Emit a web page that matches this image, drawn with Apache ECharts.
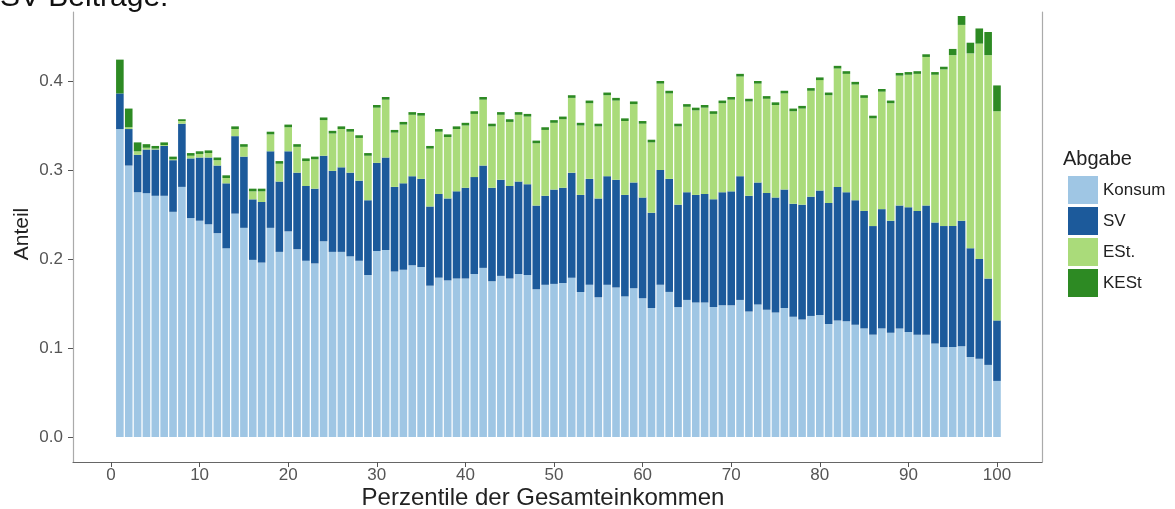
<!DOCTYPE html>
<html>
<head>
<meta charset="utf-8">
<script src="https://cdn.jsdelivr.net/npm/echarts@6/dist/echarts.min.js"></script>
<style>
html,body{margin:0;padding:0;background:#fff;}
#chart{width:1175px;height:509px;}
</style>
</head>
<body>
<div id="chart"></div>
<script>
// Percentiles 1..100
const percentiles = Array.from({length: 100}, (_, k) => k + 1);
const xTickValues = [0, 10, 20, 30, 40, 50, 60, 70, 80, 90, 100];
const yTickValues = [0, 0.1, 0.2, 0.3, 0.4];
const seriesNames = ['Konsum', 'SV', 'ESt.', 'KESt'];

const konsum = [
0.346,0.305,0.275,0.274,0.271,0.271,0.253,0.281,0.246,0.243,
0.239,0.229,0.212,0.251,0.235,0.199,0.196,0.235,0.208,0.231,
0.211,0.198,0.195,0.220,0.208,0.208,0.203,0.198,0.182,0.209,
0.210,0.186,0.188,0.193,0.191,0.170,0.179,0.176,0.178,0.178,
0.183,0.190,0.175,0.181,0.178,0.183,0.182,0.166,0.171,0.172,
0.173,0.179,0.163,0.171,0.157,0.171,0.168,0.158,0.167,0.156,
0.145,0.171,0.163,0.146,0.154,0.151,0.151,0.146,0.148,0.148,
0.154,0.141,0.149,0.143,0.140,0.145,0.135,0.132,0.136,0.137,
0.127,0.131,0.130,0.126,0.122,0.115,0.122,0.117,0.122,0.118,
0.115,0.115,0.105,0.101,0.101,0.102,0.090,0.088,0.081,0.063];

const sv = [
0.040,0.041,0.042,0.049,0.052,0.056,0.058,0.071,0.067,0.071,
0.075,0.076,0.073,0.087,0.080,0.068,0.068,0.086,0.079,0.090,
0.086,0.084,0.084,0.096,0.091,0.095,0.094,0.090,0.084,0.099,
0.104,0.095,0.097,0.100,0.099,0.089,0.094,0.092,0.098,0.102,
0.109,0.115,0.105,0.108,0.104,0.104,0.102,0.094,0.100,0.106,
0.107,0.118,0.109,0.119,0.111,0.122,0.121,0.114,0.119,0.113,
0.107,0.129,0.127,0.115,0.121,0.121,0.122,0.121,0.127,0.128,
0.139,0.130,0.137,0.131,0.129,0.133,0.127,0.129,0.134,0.140,
0.136,0.150,0.145,0.140,0.132,0.122,0.134,0.126,0.138,0.140,
0.139,0.145,0.136,0.136,0.136,0.141,0.122,0.112,0.097,0.068];

const est = [
0.000,0.002,0.004,0.002,0.001,0.001,0.001,0.003,0.003,0.004,
0.005,0.006,0.006,0.008,0.011,0.009,0.012,0.019,0.020,0.027,
0.029,0.028,0.033,0.040,0.042,0.043,0.046,0.048,0.050,0.062,
0.065,0.061,0.066,0.069,0.071,0.065,0.070,0.069,0.070,0.070,
0.071,0.074,0.069,0.073,0.072,0.075,0.076,0.070,0.074,0.075,
0.077,0.084,0.078,0.085,0.081,0.091,0.089,0.083,0.088,0.083,
0.079,0.097,0.096,0.088,0.096,0.095,0.097,0.096,0.100,0.103,
0.112,0.106,0.111,0.106,0.104,0.108,0.104,0.108,0.119,0.124,
0.121,0.133,0.133,0.130,0.127,0.121,0.132,0.132,0.146,0.149,
0.154,0.167,0.166,0.176,0.192,0.220,0.219,0.242,0.251,0.235];

const kest = [
0.038,0.021,0.010,0.004,0.003,0.003,0.003,0.002,0.003,0.003,
0.003,0.003,0.003,0.003,0.003,0.003,0.003,0.003,0.003,0.003,
0.003,0.003,0.003,0.003,0.003,0.003,0.003,0.003,0.003,0.003,
0.003,0.003,0.003,0.003,0.003,0.003,0.003,0.003,0.003,0.003,
0.003,0.003,0.003,0.003,0.003,0.003,0.003,0.003,0.003,0.003,
0.003,0.003,0.003,0.003,0.003,0.003,0.003,0.003,0.003,0.003,
0.003,0.003,0.003,0.003,0.003,0.003,0.003,0.003,0.003,0.003,
0.003,0.003,0.003,0.003,0.003,0.003,0.003,0.003,0.003,0.003,
0.003,0.003,0.003,0.003,0.003,0.003,0.003,0.003,0.003,0.003,
0.003,0.003,0.003,0.003,0.007,0.010,0.012,0.017,0.026,0.029];

const colors = ['#9fc6e4', '#1c5a9b', '#aadb7a', '#2d8a23'];
const FONT = "'Liberation Sans', Arial, sans-serif";

// value first, percentile second -> the value dimension is the stacked one
function pairs(arr) { return percentiles.map((p, k) => [arr[k], p]); }
const allSeries = [konsum, sv, est, kest].map((arr, s) => ({
  name: seriesNames[s],
  type: 'bar',
  stack: 'total',
  barWidth: 7.6,
  encode: { x: 1, y: 0 },
  itemStyle: { color: colors[s] },
  emphasis: { disabled: true },
  data: pairs(arr)
}));

const chart = echarts.init(document.getElementById('chart'), null, {renderer: 'canvas'});
chart.setOption({
  animation: false,
  backgroundColor: '#ffffff',
  textStyle: { fontFamily: FONT },
  grid: { left: 73, right: 133, top: 12, bottom: 47, containLabel: false },
  legend: {
    data: seriesNames,
    orient: 'vertical',
    left: 1063,
    top: 171,
    icon: 'rect',
    itemWidth: 30,
    itemHeight: 28,
    itemGap: 3,
    selectedMode: false,
    textStyle: { fontFamily: FONT, fontSize: 17, color: '#222' }
  },
  xAxis: {
    type: 'value',
    min: -4.29,
    max: 105.08,
    splitLine: { show: false },
    axisLine: { show: true, onZero: false, lineStyle: { color: '#666', width: 1.2 } },
    axisTick: { show: true, length: 5, lineStyle: { color: '#555' }, customValues: xTickValues },
    axisLabel: { fontFamily: FONT, fontSize: 17, color: '#555', margin: 5, customValues: xTickValues }
  },
  yAxis: [{
    type: 'value',
    min: -0.0281,
    max: 0.4775,
    splitLine: { show: false },
    axisLine: { show: true, onZero: false, lineStyle: { color: '#aaa', width: 1.2 } },
    axisTick: { show: true, length: 5, lineStyle: { color: '#555' }, customValues: yTickValues },
    axisLabel: { fontFamily: FONT, fontSize: 17, color: '#555', margin: 10,
                 customValues: yTickValues, formatter: v => v.toFixed(1) }
  }, {
    type: 'value',
    position: 'right',
    min: -0.0281,
    max: 0.4775,
    splitLine: { show: false },
    axisLine: { show: true, onZero: false, lineStyle: { color: '#aaa', width: 1.2 } },
    axisTick: { show: false },
    axisLabel: { show: false }
  }],
  graphic: [
    { type: 'text', left: 0, top: -17,
      style: { text: 'SV Beiträge:', font: "30px 'Liberation Sans', Arial, sans-serif", fill: '#111' } },
    { type: 'text', x: 543, y: 498,
      style: { text: 'Perzentile der Gesamteinkommen', font: "24px 'Liberation Sans', Arial, sans-serif",
               fill: '#222', align: 'center', verticalAlign: 'middle' } },
    { type: 'text', x: 22, y: 234, rotation: Math.PI / 2,
      style: { text: 'Anteil', font: "21px 'Liberation Sans', Arial, sans-serif",
               fill: '#222', align: 'center', verticalAlign: 'middle' } },
    { type: 'text', x: 1063, y: 159,
      style: { text: 'Abgabe', font: "20px 'Liberation Sans', Arial, sans-serif",
               fill: '#222', align: 'left', verticalAlign: 'middle' } }
  ],
  series: allSeries
});
</script>
</body>
</html>
